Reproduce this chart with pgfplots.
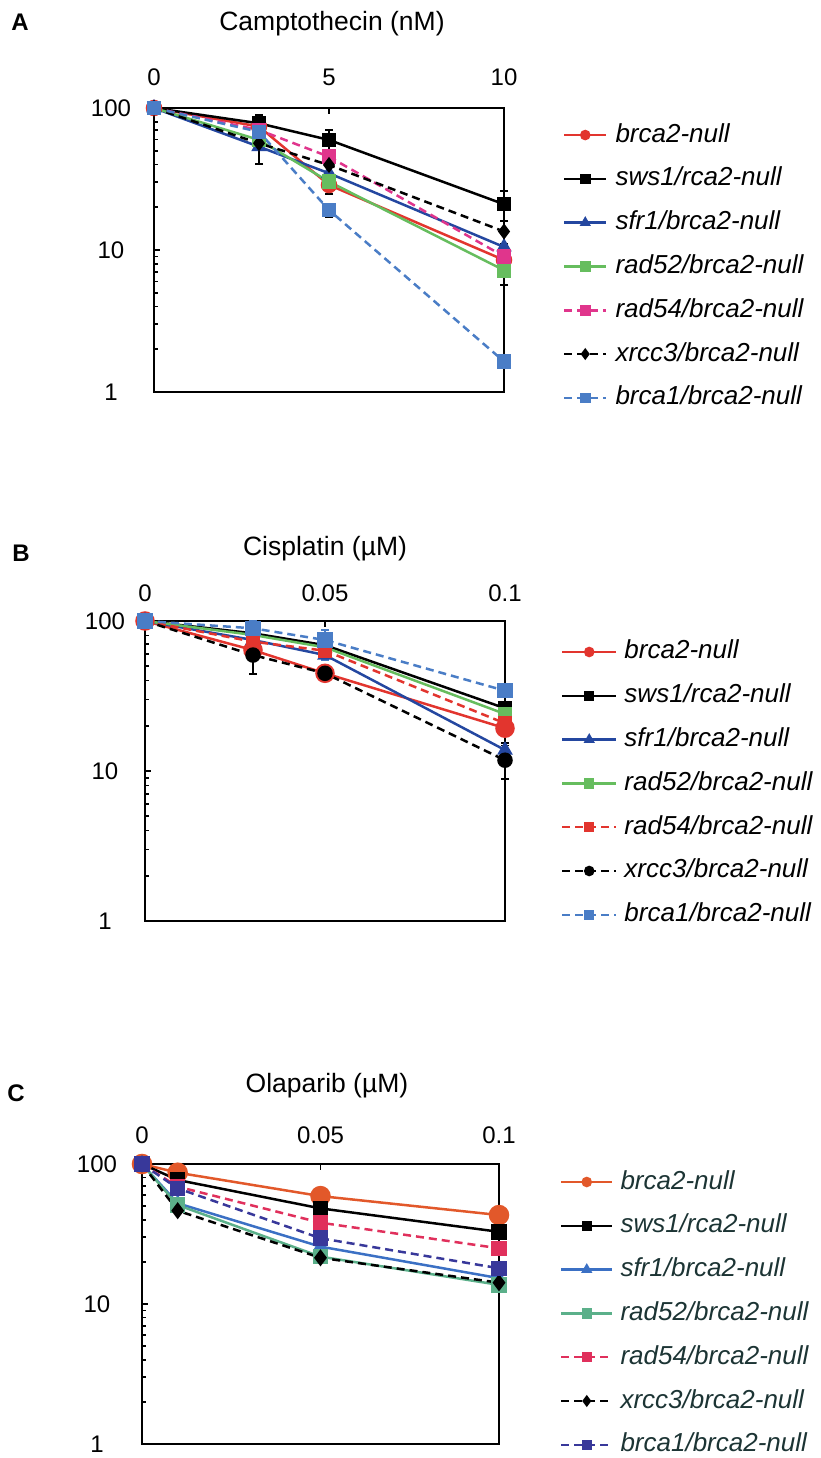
\documentclass[border=0pt]{standalone}
\usepackage{pgfplots}
\pgfplotsset{compat=1.18}
\usepackage{fontspec}
\setmainfont{Liberation Sans}
\definecolor{cRed}{HTML}{E2352E}
\definecolor{cDBlue}{HTML}{2447A0}
\definecolor{cGreen}{HTML}{66BD5E}
\definecolor{cMag}{HTML}{E0358C}
\definecolor{cLBlue}{HTML}{4A7DC6}
\definecolor{cOrange}{HTML}{E2582A}
\definecolor{cBlueC}{HTML}{3B70C4}
\definecolor{cTeal}{HTML}{5BB08A}
\definecolor{cPink}{HTML}{E0305C}
\definecolor{cNavy}{HTML}{38389A}
\definecolor{cLegC}{HTML}{1C3434}
\pgfplotsset{
  every axis/.append style={
    scale only axis, clip=false,
    ymin=1, ymax=100,
    ytick={1,10,100}, yticklabels={1,10,100},
    minor ytick={2,3,4,5,6,7,8,9,20,30,40,50,60,70,80,90},
    xtick pos=right, xticklabel pos=right, ytick pos=left,
    tick align=inside,
    axis line style={line width=2pt, black},
    major tick length=6pt, minor tick length=4pt,
    tick style={black, line width=1.6pt},
    tick label style={font=\fontsize{24}{28}\selectfont},
    legend cell align=left,
    legend style={draw=none, fill=none, inner sep=0pt, outer sep=0pt,
      anchor=north west, row sep=19.8pt,
      font=\fontsize{26}{30}\selectfont\itshape,
      nodes={inner sep=0pt, text height=19pt, text depth=5pt}},
  },
}
\begin{document}
\begin{tikzpicture}
\path[use as bounding box] (0pt,0pt) rectangle (820pt,-1458pt);
% ---------------- Panel A
\node[font=\fontsize{24}{28}\selectfont\bfseries] at (20pt,-22pt) {A};
\node[font=\fontsize{26.5}{30}\selectfont] at (332pt,-23.5pt) {Camptothecin (nM)};
\begin{semilogyaxis}[at={(154pt,-108pt)}, anchor=north west,
  width=350pt, height=284pt, xmin=0, xmax=10,
  xtick={0,5,10}, xticklabels={0,5,10},
  xticklabel style={anchor=center, yshift=30.5pt},
  yticklabel style={anchor=center, xshift=-43pt},
  legend style={at={(axis description cs:1.1686,0.947)}, /tikz/every odd column/.append style={column sep=8pt}},
  legend image code/.code={\draw[mark repeat=2,mark phase=2,#1,mark size=4pt] plot coordinates {(0pt,0pt) (21pt,0pt) (42pt,0pt)};},
]
\addplot[forget plot, only marks, mark=none, error bars/y dir=both, error bars/y explicit,
  error bars/error bar style={draw=black, solid, line width=1.8pt},
  error bars/error mark options={draw=black, solid, rotate=90, mark size=4pt, line width=1.8pt}]
  coordinates {(3,78) +- (0,11) (5,59.6) +- (0,10) (10,21) +- (0,5) (3,53.4) +- (0,13) (5,28.7) +- (0,4) (5,19.1) +- (0,2) (10,7.2) +- (0,1.5) (10,13.5) +- (0,2.5)};
\addplot[color=cRed, line width=2.5pt, solid, mark=*, mark size=7pt, mark options={solid, fill=cRed}] coordinates {(0,100) (3,74) (5,28.7) (10,8.5)};
\addlegendentry{brca2-null}
\addplot[color=black, line width=2.5pt, solid, mark=square*, mark size=6pt, mark options={solid, fill=black}] coordinates {(0,100) (3,78) (5,59.6) (10,21)};
\addlegendentry{sws1/rca2-null}
\addplot[color=cDBlue, line width=2.5pt, solid, mark=triangle*, mark size=6.5pt, mark options={solid, fill=cDBlue}] coordinates {(0,100) (3,53.4) (5,34.7) (10,10.5)};
\addlegendentry{sfr1/brca2-null}
\addplot[color=cGreen, line width=2.5pt, solid, mark=square*, mark size=6pt, mark options={solid, fill=cGreen}] coordinates {(0,100) (3,59.6) (5,30.3) (10,7.2)};
\addlegendentry{rad52/brca2-null}
\addplot[color=cMag, line width=2.5pt, dash pattern=on 8pt off 5pt, mark=square*, mark size=6pt, mark options={solid, fill=cMag}] coordinates {(0,100) (3,70) (5,45.4) (10,9.0)};
\addlegendentry{rad54/brca2-null}
\addplot[color=black, line width=2.5pt, dash pattern=on 8pt off 5pt, mark=diamond*, mark size=6pt, mark options={solid, fill=black}] coordinates {(0,100) (3,56.4) (5,39.7) (10,13.5)};
\addlegendentry{xrcc3/brca2-null}
\addplot[color=cLBlue, line width=2.5pt, dash pattern=on 8pt off 5pt, mark=square*, mark size=6pt, mark options={solid, fill=cLBlue}] coordinates {(0,100) (3,68) (5,19.1) (10,1.64)};
\addlegendentry{brca1/brca2-null}
\end{semilogyaxis}
% ---------------- Panel B
\node[font=\fontsize{24}{28}\selectfont\bfseries] at (21pt,-553pt) {B};
\node[font=\fontsize{26.5}{30}\selectfont] at (325pt,-549pt) {Cisplatin (\textmu M)};
\begin{semilogyaxis}[at={(145pt,-621pt)}, anchor=north west,
  width=360pt, height=300pt, xmin=0, xmax=0.1,
  xtick={0,0.05,0.1}, xticklabels={0,0.05,0.1},
  xticklabel style={anchor=center, yshift=27.5pt},
  yticklabel style={anchor=center, xshift=-40pt},
  legend style={at={(axis description cs:1.1555,0.9367)}, /tikz/every odd column/.append style={column sep=7pt}},
  legend image code/.code={\draw[mark repeat=2,mark phase=2,#1,mark size=4pt] plot coordinates {(0pt,0pt) (27pt,0pt) (54pt,0pt)};},
]
\addplot[forget plot, only marks, mark=none, error bars/y dir=both, error bars/y explicit,
  error bars/error bar style={draw=black, solid, line width=1.8pt},
  error bars/error mark options={draw=black, solid, rotate=90, mark size=4pt, line width=1.8pt}]
  coordinates {(0.03,59.3) +- (0,15) (0.1,11.8) +- (0,3) (0.1,26.2) +- (0,2) (0.1,13.8) +- (0,1.5)};
\addplot[forget plot, only marks, mark=none, error bars/y dir=both, error bars/y explicit,
  error bars/error bar style={draw=cLBlue, solid, line width=1.8pt},
  error bars/error mark options={draw=cLBlue, solid, rotate=90, mark size=4pt, line width=1.8pt}]
  coordinates {(0.03,89.4) +- (0,10) (0.05,74.7) +- (0,12) (0.05,59.3) +- (0,4)};
\addplot[color=cRed, line width=2.5pt, solid, mark=*, mark size=8.5pt, mark options={solid, fill=cRed}] coordinates {(0,100) (0.03,64) (0.05,44.8) (0.1,19.3)};
\addlegendentry{brca2-null}
\addplot[color=black, line width=2.5pt, solid, mark=square*, mark size=6pt, mark options={solid, fill=black}] coordinates {(0,100) (0.03,82.8) (0.05,69) (0.1,26.2)};
\addlegendentry{sws1/rca2-null}
\addplot[color=cDBlue, line width=2.5pt, solid, mark=triangle*, mark size=6.5pt, mark options={solid, fill=cDBlue}] coordinates {(0,100) (0.03,74.7) (0.05,59.3) (0.1,13.8)};
\addlegendentry{sfr1/brca2-null}
\addplot[color=cGreen, line width=2.5pt, solid, mark=square*, mark size=6pt, mark options={solid, fill=cGreen}] coordinates {(0,100) (0.03,80.7) (0.05,66.8) (0.1,24)};
\addlegendentry{rad52/brca2-null}
\addplot[color=cRed, line width=2.5pt, dash pattern=on 8pt off 5pt, mark=square*, mark size=6pt, mark options={solid, fill=cRed}] coordinates {(0,100) (0.03,72.8) (0.05,63.4) (0.1,20.8)};
\addlegendentry{rad54/brca2-null}
\addplot[color=black, line width=2.5pt, dash pattern=on 8pt off 5pt, mark=*, mark size=6.5pt, mark options={solid, fill=black}] coordinates {(0,100) (0.03,59.3) (0.05,44.8) (0.1,11.8)};
\addlegendentry{xrcc3/brca2-null}
\addplot[color=cLBlue, line width=2.5pt, dash pattern=on 8pt off 5pt, mark=square*, mark size=6.5pt, mark options={solid, fill=cLBlue}] coordinates {(0,100) (0.03,89.4) (0.05,74.7) (0.1,34.3)};
\addlegendentry{brca1/brca2-null}
\end{semilogyaxis}
% ---------------- Panel C
\node[font=\fontsize{24}{28}\selectfont\bfseries] at (16pt,-1093pt) {C};
\node[font=\fontsize{26.5}{30}\selectfont] at (327pt,-1086pt) {Olaparib (\textmu M)};
\begin{semilogyaxis}[at={(142pt,-1164pt)}, anchor=north west,
  width=357pt, height=280pt, xmin=0, xmax=0.1,
  xtick={0,0.05,0.1}, xticklabels={0,0.05,0.1},
  xticklabel style={anchor=center, yshift=29pt},
  yticklabel style={anchor=center, xshift=-45pt},
  legend style={at={(axis description cs:1.1709,0.9786)}, text=cLegC, /tikz/every odd column/.append style={column sep=7pt}},
  legend image code/.code={\draw[mark repeat=2,mark phase=2,#1,mark size=4pt] plot coordinates {(0pt,0pt) (25.5pt,0pt) (51pt,0pt)};},
]
\addplot[color=cOrange, line width=2.5pt, solid, mark=*, mark size=9pt, mark options={solid, fill=cOrange}] coordinates {(0,100) (0.01,86.7) (0.05,59) (0.1,43.2)};
\addlegendentry{brca2-null}
\addplot[color=black, line width=2.5pt, solid, mark=square*, mark size=6.5pt, mark options={solid, fill=black}] coordinates {(0,100) (0.01,76.9) (0.05,48.2) (0.1,32.8)};
\addlegendentry{sws1/rca2-null}
\addplot[color=cBlueC, line width=2.5pt, solid, mark=triangle*, mark size=6.5pt, mark options={solid, fill=cBlueC}] coordinates {(0,100) (0.01,52.4) (0.05,25.7) (0.1,15.3)};
\addlegendentry{sfr1/brca2-null}
\addplot[color=cTeal, line width=2.5pt, solid, mark=square*, mark size=6.5pt, mark options={solid, fill=cTeal}] coordinates {(0,100) (0.01,50.9) (0.05,21.8) (0.1,13.7)};
\addlegendentry{rad52/brca2-null}
\addplot[color=cPink, line width=2.5pt, dash pattern=on 8pt off 5pt, mark=square*, mark size=6.5pt, mark options={solid, fill=cPink}] coordinates {(0,100) (0.01,68.9) (0.05,38.1) (0.1,25)};
\addlegendentry{rad54/brca2-null}
\addplot[color=black, line width=2.5pt, dash pattern=on 8pt off 5pt, mark=diamond*, mark size=6.5pt, mark options={solid, fill=black}] coordinates {(0,100) (0.01,46.4) (0.05,21.4) (0.1,14.2)};
\addlegendentry{xrcc3/brca2-null}
\addplot[color=cNavy, line width=2.5pt, dash pattern=on 8pt off 5pt, mark=square*, mark size=6.5pt, mark options={solid, fill=cNavy}] coordinates {(0,100) (0.01,67) (0.05,29.5) (0.1,18)};
\addlegendentry{brca1/brca2-null}
\end{semilogyaxis}
\end{tikzpicture}
\end{document}
